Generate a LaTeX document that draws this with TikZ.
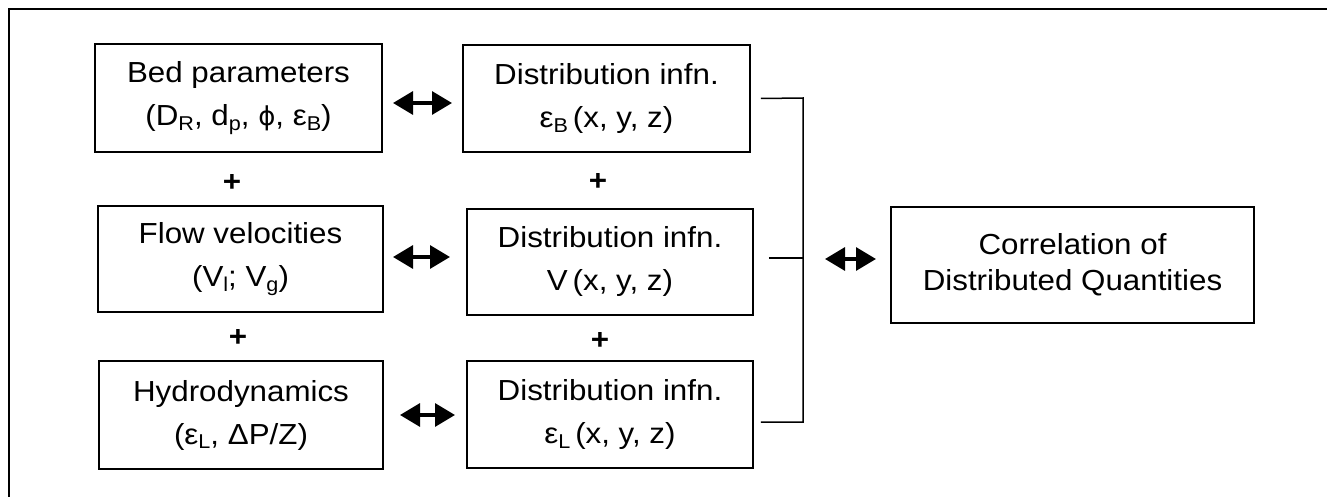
\documentclass[tikz,border=0pt]{standalone}
\usepackage{fontspec}
\setmainfont{Liberation Sans}[FakeStretch=1.08]
\newfontfamily\dejavu{DejaVu Sans}
\usetikzlibrary{arrows.meta,calc}
\newcommand{\sbs}[1]{\raisebox{-0.3ex}{\fontsize{20}{20}\selectfont #1}}
\tikzset{
  box/.style={draw, line width=1.6pt, rectangle, inner sep=0pt, align=center,
    font=\fontsize{29}{43}\selectfont},
  plus/.style={font=\fontsize{29}{29}\selectfont\bfseries, inner sep=0pt},
  darrow/.style={{Triangle[length=20pt,width=23pt]}-{Triangle[length=20pt,width=23pt]}, line width=3.2pt},
  link/.style={line width=1.5pt},
  frame/.style={line width=1.5pt}
}
\begin{document}
\begin{tikzpicture}[x=1pt,y=-1pt]
\useasboundingbox (0,0) rectangle (1327,497);
\draw[frame] (9,500) -- (9,9) -- (1330,9);

\node[box, minimum width=287pt, minimum height=108pt] (bed) at (238.5,98)
  {Bed parameters\\(D\sbs{R}, d\sbs{p}, {\dejavu\fontsize{26}{26}\selectfont ϕ}, ε\sbs{B})};
\node[box, minimum width=287pt, minimum height=107pt] (d1) at (606.5,98.5)
  {Distribution infn.\\ε\sbs{B}\,(x, y, z)};
\node[box, minimum width=285pt, minimum height=106pt] (flow) at (240.5,259)
  {Flow velocities\\(V\sbs{l}; V\sbs{g})};
\node[box, minimum width=286pt, minimum height=106pt] (d2) at (610,262)
  {Distribution infn.\\V\,(x, y, z)};
\node[box, minimum width=284pt, minimum height=108pt] (hyd) at (241,415)
  {Hydrodynamics\\(ε\sbs{L}, ΔP/Z)};
\node[box, minimum width=286pt, minimum height=107pt] (d3) at (610,414.5)
  {Distribution infn.\\ε\sbs{L}\,(x, y, z)};
\node[box, minimum width=363pt, minimum height=116pt, font=\fontsize{29}{36}\selectfont] (corr) at (1072.5,265)
  {Correlation of\\Distributed Quantities};

\node[plus] (p1) at (232,183) {+};
\node[plus] (p2) at (598,182) {+};
\node[plus] (p3) at (238,338) {+};
\node[plus] (p4) at (600,341) {+};

\coordinate (a1s) at (393,103); \coordinate (a1e) at (452,103);
\coordinate (a2s) at (393,257); \coordinate (a2e) at (450,257);
\coordinate (a3s) at (400,415); \coordinate (a3e) at (455,415);
\coordinate (a4s) at (825,259); \coordinate (a4e) at (876,259);
\draw[darrow] (a1s) -- (a1e);
\draw[darrow] (a2s) -- (a2e);
\draw[darrow] (a3s) -- (a3e);
\draw[darrow] (a4s) -- (a4e);

\coordinate (b1) at ($(d1.east)+(10,0)$);
\coordinate (b2) at ($(d2.east)+(15,-4)$);
\coordinate (b3) at ($(d3.east)+(7,7.5)$);
\coordinate (bt) at (803,98);
\coordinate (bm) at (803,258);
\coordinate (bb) at (803,422);
\draw[link] (b1) -- (bt) -- (bb) -- (b3);
\draw[link] (b2) -- (bm);
\end{tikzpicture}
\end{document}
